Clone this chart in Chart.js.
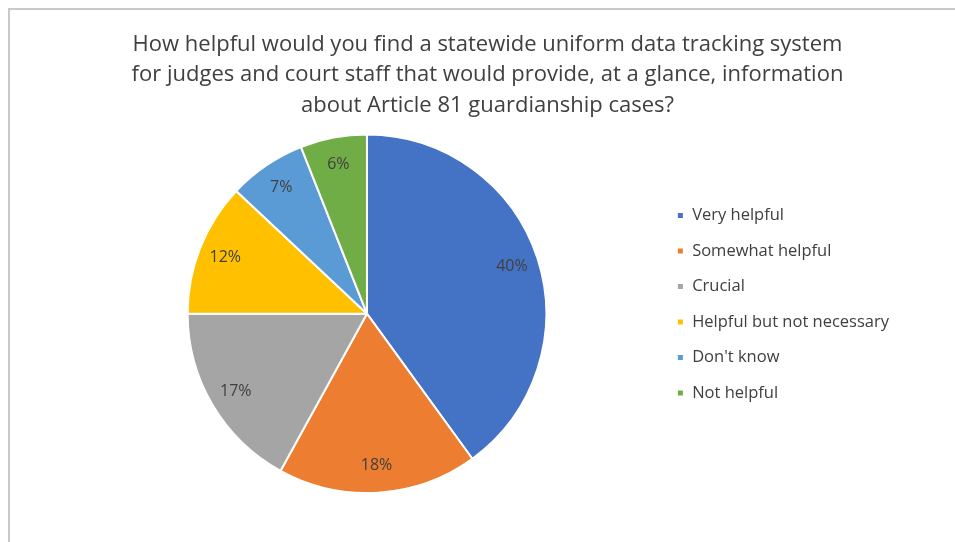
<!DOCTYPE html>
<html>
<head>
<meta charset="utf-8">
<script src="https://cdn.jsdelivr.net/npm/chart.js@4.4.1/dist/chart.umd.min.js"></script>
<style>
  html, body { margin: 0; padding: 0; background: #fff; }
  #frame {
    position: absolute; left: 8px; top: 8px; width: 960px; height: 545px;
    border-left: 2px solid #c9c9c9; border-top: 2px solid #c9c9c9;
  }
  #wrap { position: absolute; left: 0; top: 0; width: 955px; height: 542px; }
</style>
</head>
<body>
<div id="frame"></div>
<div id="wrap"><canvas id="chart"></canvas></div>
<script>
const titleLines = [
  'How helpful would you find a statewide uniform data tracking system',
  'for judges and court staff that would provide, at a glance, information',
  'about Article 81 guardianship cases?'
]
const categories = ['Very helpful', 'Somewhat helpful', 'Crucial', 'Helpful but not necessary', "Don't know", 'Not helpful']
const percents = [40, 18, 17, 12, 7, 6]
const sliceColors = ['#4472C4', '#ED7D31', '#A5A5A5', '#FFC000', '#5B9BD5', '#70AD47']

const FONT = '"Open Sans", Lato, sans-serif'

// percentage text inside each slice
const sliceLabels = {
  id: 'sliceLabels',
  afterDatasetsDraw (chart) {
    const { ctx } = chart
    const meta = chart.getDatasetMeta(0)
    ctx.save()
    ctx.font = '16px ' + FONT
    ctx.fillStyle = '#404040'
    ctx.textAlign = 'center'
    ctx.textBaseline = 'middle'
    meta.data.forEach((arc, i) => {
      const { x, y, startAngle, endAngle, outerRadius } = arc.getProps(['x', 'y', 'startAngle', 'endAngle', 'outerRadius'], true)
      const mid = (startAngle + endAngle) / 2
      const r = outerRadius * 0.85
      ctx.fillText(percents[i] + '%', x + Math.cos(mid) * r, y + Math.sin(mid) * r)
    })
    ctx.restore()
  }
}

new Chart(document.getElementById('chart'), {
  type: 'pie',
  data: {
    labels: categories,
    datasets: [{
      data: percents,
      backgroundColor: sliceColors,
      borderColor: '#ffffff',
      borderWidth: 2
    }]
  },
  options: {
    responsive: true,
    maintainAspectRatio: false,
    animation: false,
    layout: { padding: { left: 76, right: 56, top: 0, bottom: 48 } },
    plugins: {
      title: {
        display: true,
        text: titleLines,
        color: '#404040',
        font: { family: FONT, size: 22, weight: 'normal', lineHeight: 1.4 },
        padding: { top: 29, bottom: 12 }
      },
      legend: {
        position: 'right',
        title: { display: true, text: '', padding: { top: 100, bottom: 0 } },
        labels: {
          color: '#404040',
          font: { family: FONT, size: 16.5 },
          boxWidth: 7,
          boxHeight: 7,
          padding: 19
        }
      },
      tooltip: { enabled: false }
    }
  },
  plugins: [sliceLabels]
})
</script>
</body>
</html>
